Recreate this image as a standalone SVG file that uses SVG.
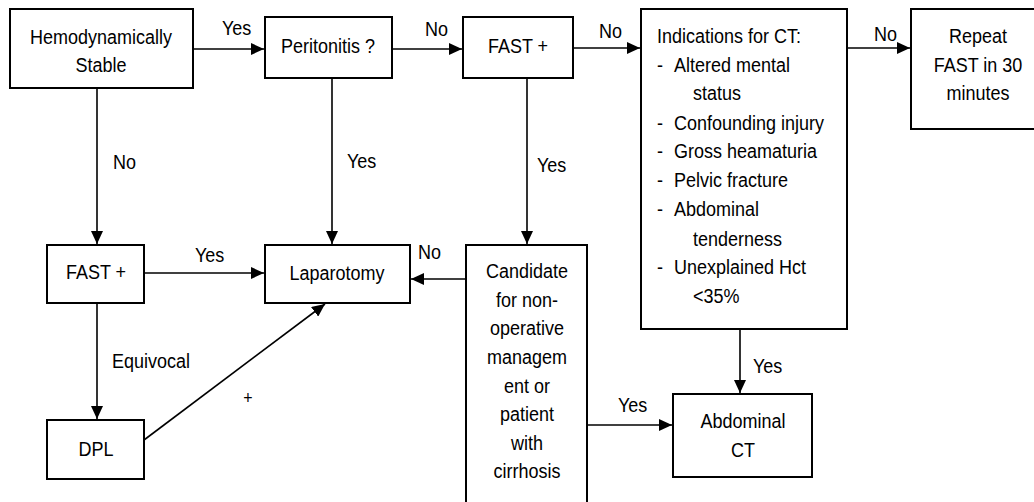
<svg xmlns="http://www.w3.org/2000/svg" width="1034" height="502" viewBox="0 0 1034 502">
<style>
.box{fill:#fff;stroke:#000;stroke-width:2}
.ln{fill:none;stroke:#000;stroke-width:1.6}
text{font-family:"Liberation Sans",Arial,sans-serif;font-size:18px;fill:#000;transform-box:fill-box;transform-origin:50% 81%;transform:scaleY(1.13)}
.c{text-anchor:middle}
</style>
<defs>
<marker id="ah" markerUnits="userSpaceOnUse" markerWidth="14" markerHeight="12" refX="13" refY="6" orient="auto">
<path d="M0,0 L13,6 L0,12 z" fill="#000"/>
</marker>
</defs>
<rect width="1034" height="502" fill="#fff"/>
<g id="connectors">
<line class="ln" x1="193" y1="49" x2="264" y2="49" marker-end="url(#ah)"/>
<text x="222" y="35">Yes</text>
<line class="ln" x1="392" y1="49" x2="462" y2="49" marker-end="url(#ah)"/>
<text x="425" y="36">No</text>
<line class="ln" x1="573" y1="48" x2="640" y2="48" marker-end="url(#ah)"/>
<text x="599" y="38">No</text>
<line class="ln" x1="847" y1="48" x2="910" y2="48" marker-end="url(#ah)"/>
<text x="874" y="41">No</text>
<line class="ln" x1="97" y1="88" x2="97" y2="244" marker-end="url(#ah)"/>
<text x="113" y="169">No</text>
<line class="ln" x1="332" y1="78" x2="332" y2="244" marker-end="url(#ah)"/>
<text x="347" y="168">Yes</text>
<line class="ln" x1="527" y1="78" x2="527" y2="244" marker-end="url(#ah)"/>
<text x="537" y="172">Yes</text>
<line class="ln" x1="144" y1="273" x2="264" y2="273" marker-end="url(#ah)"/>
<text x="195" y="262">Yes</text>
<line class="ln" x1="466" y1="279" x2="411" y2="279" marker-end="url(#ah)"/>
<text x="418" y="259">No</text>
<line class="ln" x1="97" y1="303" x2="97" y2="419" marker-end="url(#ah)"/>
<text x="112" y="368">Equivocal</text>
<line class="ln" x1="144" y1="440" x2="325" y2="304" marker-end="url(#ah)"/>
<text x="248" y="404" class="c" style="font-size:16px">+</text>
<line class="ln" x1="740" y1="329" x2="740" y2="393" marker-end="url(#ah)"/>
<text x="753" y="373">Yes</text>
<line class="ln" x1="587" y1="425" x2="672" y2="425" marker-end="url(#ah)"/>
<text x="618" y="412">Yes</text>
</g>
<g id="hemo">
<rect class="box" x="10" y="9" width="183" height="79"/>
<text class="c" x="101" y="44">Hemodynamically</text>
<text class="c" x="101" y="72">Stable</text>
</g>
<g id="peritonitis">
<rect class="box" x="265" y="17" width="127" height="61"/>
<text class="c" x="328" y="53">Peritonitis ?</text>
</g>
<g id="fast1">
<rect class="box" x="463" y="17" width="110" height="61"/>
<text class="c" x="518" y="53">FAST +</text>
</g>
<g id="indications">
<rect class="box" x="641" y="9" width="206" height="320"/>
<text x="657" y="43">Indications for CT:</text>
<text x="657" y="72">-</text><text x="674" y="72">Altered mental</text>
<text x="693" y="100">status</text>
<text x="657" y="130">-</text><text x="674" y="130">Confounding injury</text>
<text x="657" y="158">-</text><text x="674" y="158">Gross heamaturia</text>
<text x="657" y="187">-</text><text x="674" y="187">Pelvic fracture</text>
<text x="657" y="216">-</text><text x="674" y="216">Abdominal</text>
<text x="693" y="246">tenderness</text>
<text x="657" y="274">-</text><text x="674" y="274">Unexplained Hct</text>
<text x="693" y="303">&lt;35%</text>
</g>
<g id="repeat">
<rect class="box" x="911" y="9" width="130" height="120"/>
<text class="c" x="978" y="43">Repeat</text>
<text class="c" x="978" y="72">FAST in 30</text>
<text class="c" x="978" y="100">minutes</text>
</g>
<g id="fast2">
<rect class="box" x="47" y="245" width="97" height="58"/>
<text class="c" x="96" y="279">FAST +</text>
</g>
<g id="laparotomy">
<rect class="box" x="265" y="245" width="145" height="58"/>
<text class="c" x="337" y="280">Laparotomy</text>
</g>
<g id="candidate">
<rect class="box" x="466" y="245" width="121" height="270"/>
<text class="c" x="527" y="278">Candidate</text>
<text class="c" x="527" y="307">for non-</text>
<text class="c" x="527" y="335">operative</text>
<text class="c" x="527" y="364">managem</text>
<text class="c" x="527" y="393">ent or</text>
<text class="c" x="527" y="421">patient</text>
<text class="c" x="527" y="450">with</text>
<text class="c" x="527" y="478">cirrhosis</text>
</g>
<g id="dpl">
<rect class="box" x="47" y="420" width="97" height="59"/>
<text class="c" x="96" y="456">DPL</text>
</g>
<g id="abdct">
<rect class="box" x="673" y="394" width="139" height="83"/>
<text class="c" x="743" y="428">Abdominal</text>
<text class="c" x="743" y="457">CT</text>
</g>
</svg>
